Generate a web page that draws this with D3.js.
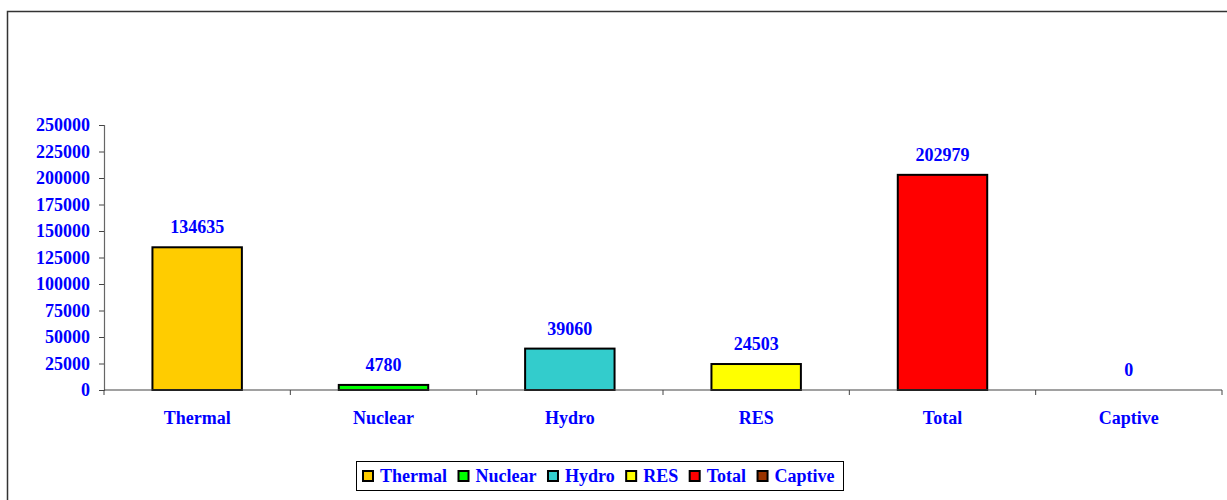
<!DOCTYPE html>
<html><head><meta charset="utf-8">
<script src="https://cdn.jsdelivr.net/npm/d3@7"></script>
<style>body{margin:0;background:#fff}svg{display:block}text{font-family:"Liberation Serif","Times New Roman",serif;font-weight:bold;fill:#0000FF}</style>
</head><body>
<svg id="c" width="1227" height="500"></svg>
<script>
const categories = ["Thermal","Nuclear","Hydro","RES","Total","Captive"];
const values = [134635, 4780, 39060, 24503, 202979, 0];
const colors = ["#FFCC00","#00FF00","#33CCCC","#FFFF00","#FF0000","#993300"];
const yTicks = [0,25000,50000,75000,100000,125000,150000,175000,200000,225000,250000];

(function(){
const svg = d3.select("#c");
const fs = 18;
// outer frame
svg.append("rect").attr("x",7.5).attr("y",11.5).attr("width",1240).attr("height",520)
  .attr("fill","none").attr("stroke","#333").attr("stroke-width",1.5);

const pl = 104, pr = 1222, pt = 125, pb = 390;
const x = d3.scaleBand().domain(categories).range([pl,pr]).paddingInner(0).paddingOuter(0);
const y = d3.scaleLinear().domain([0,250000]).range([pb,pt]);

// bars
const bw = x.bandwidth()*0.48;
svg.selectAll("rect.bar").data(values).enter().append("rect")
  .attr("class","bar")
  .attr("x",(d,i)=>x(categories[i])+x.bandwidth()/2-bw/2)
  .attr("y",d=>y(d))
  .attr("width",bw)
  .attr("height",d=>pb-y(d))
  .attr("fill",(d,i)=>colors[i])
  .attr("stroke",(d)=>d>0?"#000":"none").attr("stroke-width",2);

// y axis
const ya = svg.append("g").attr("transform",`translate(${pl},0)`)
  .call(d3.axisLeft(y).tickValues(yTicks).tickSize(5).tickPadding(9).tickFormat(d3.format("d")));
ya.select(".domain").attr("stroke","#666").attr("stroke-width",1.2);
ya.selectAll(".tick line").attr("stroke","#444");
ya.selectAll("text").style("font-size",fs+"px").style("font-family","'Liberation Serif',serif").attr("fill","#0000FF");

// x axis
const xa = svg.append("g").attr("transform",`translate(0,${pb})`);
xa.append("line").attr("x1",pl).attr("x2",pr).attr("y1",0).attr("y2",0).attr("stroke","#444").attr("stroke-width",1.2);
const bounds = categories.map(c=>x(c)).concat([pr]);
xa.selectAll("line.t").data(bounds).enter().append("line").attr("class","t")
  .attr("x1",d=>d).attr("x2",d=>d).attr("y1",0).attr("y2",5).attr("stroke","#444");
xa.selectAll("text").data(categories).enter().append("text")
  .attr("x",d=>x(d)+x.bandwidth()/2).attr("y",34).attr("text-anchor","middle")
  .style("font-size",fs+"px").text(d=>d);

// value labels
svg.selectAll("text.val").data(values).enter().append("text").attr("class","val")
  .attr("x",(d,i)=>x(categories[i])+x.bandwidth()/2)
  .attr("y",d=>y(d)-14).attr("text-anchor","middle")
  .style("font-size",fs+"px").text(d=>d);

// legend
const lg = svg.append("g");
lg.append("rect").attr("x",356.5).attr("y",461.5).attr("width",487).attr("height",29)
  .attr("fill","#fff").attr("stroke","#000").attr("stroke-width",1);
let lx = 363;
categories.forEach((c,i)=>{
  lg.append("rect").attr("x",lx).attr("y",471).attr("width",10).attr("height",10)
    .attr("fill",colors[i]).attr("stroke","#000").attr("stroke-width",2);
  const t = lg.append("text").attr("x",lx+17).attr("y",482).style("font-size",fs+"px").text(c);
  lx += 17 + t.node().getComputedTextLength() + 11.5;
});
})();
</script>
</body></html>
